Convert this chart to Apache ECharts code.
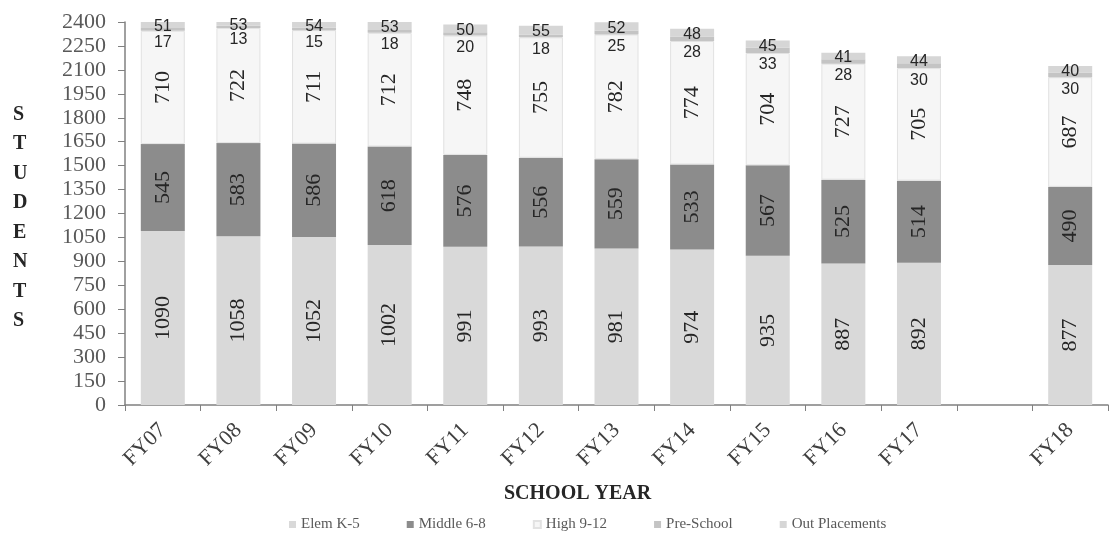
<!DOCTYPE html>
<html>
<head>
<meta charset="utf-8">
<script src="https://cdn.jsdelivr.net/npm/echarts@6/dist/echarts.min.js"></script>
<style>html,body{margin:0;padding:0;background:#fff}#c{width:1114px;height:542px}</style>
</head>
<body>
<div id="c"></div>
<script>
const categories = ['FY07','FY08','FY09','FY10','FY11','FY12','FY13','FY14','FY15','FY16','FY17','','FY18'];
const elem   = [1090,1058,1052,1002,991,993,981,974,935,887,892,'-',877];
const middle = [545,583,586,618,576,556,559,533,567,525,514,'-',490];
const high   = [710,722,711,712,748,755,782,774,704,727,705,'-',687];
const preSchool = [17,13,15,18,20,18,25,28,33,28,30,'-',30];
const outPlacements = [51,53,54,53,50,55,52,48,45,41,44,'-',40];
const yTicks = {min:0, max:2400, interval:150};

const serif = '"Liberation Serif", "DejaVu Serif", serif';
const sans = '"Liberation Sans", "DejaVu Sans", sans-serif';
const chart = echarts.init(document.getElementById('c'));
const barW = 44;
const axisCol = '#808080';
const rotLabel = {show:true, position:'inside', rotate:90, fontFamily:serif, fontSize:22, color:'#262626'};
chart.setOption({
  animation:false,
  grid:{left:125,right:6,top:22,bottom:137,containLabel:false},
  legend:{
    bottom:5, left:284, itemGap:47, itemWidth:7, itemHeight:7, icon:'rect',
    textStyle:{fontFamily:serif,fontSize:15,color:'#595959'},
    data:['Elem K-5','Middle 6-8','High 9-12','Pre-School','Out Placements']
  },
  xAxis:[{
    type:'category', data:categories, boundaryGap:true,
    axisLine:{lineStyle:{color:axisCol,width:1.5}},
    axisTick:{show:true,alignWithLabel:false,length:6,lineStyle:{color:axisCol}},
    axisLabel:{rotate:45,margin:22,fontFamily:serif,fontSize:22,color:'#404040',interval:0}
  }],
  yAxis:[{
    type:'value', min:yTicks.min, max:yTicks.max, interval:yTicks.interval,
    axisLine:{show:true,lineStyle:{color:axisCol,width:1.5}},
    axisTick:{show:true,length:7,lineStyle:{color:axisCol}},
    splitLine:{show:false},
    axisLabel:{margin:19,fontFamily:serif,fontSize:22,color:'#595959',formatter:v=>String(v)}
  }],
  graphic:[
    {type:'text', left:13, top:100, style:{text:'S\nT\nU\nD\nE\nN\nT\nS', fontFamily:serif, fontWeight:'bold', fontSize:20, lineHeight:29.5, fill:'#262626', align:'center'}},
    {type:'text', left:504, top:484, style:{text:'SCHOOL YEAR', fontFamily:serif, fontWeight:'bold', fontSize:20, fill:'#262626'}}
  ],
  series:[
    {name:'Elem K-5', type:'bar', stack:'s', barWidth:barW, data:elem,
     itemStyle:{color:'#d9d9d9'}, label:rotLabel},
    {name:'Middle 6-8', type:'bar', stack:'s', barWidth:barW, data:middle,
     itemStyle:{color:'#8c8c8c'}, label:rotLabel},
    {name:'High 9-12', type:'bar', stack:'s', barWidth:barW, data:high,
     itemStyle:{color:'#f6f6f6',borderColor:'#e2e2e2',borderWidth:1}, label:rotLabel},
    {name:'Pre-School', type:'bar', stack:'s', barWidth:barW, data:preSchool,
     itemStyle:{color:'#c4c4c4'},
     label:{show:true, position:'bottom', distance:4, fontFamily:sans, fontSize:16, color:'#262626'}},
    {name:'Out Placements', type:'bar', stack:'s', barWidth:barW, data:outPlacements,
     itemStyle:{color:'#d6d6d6'},
     label:{show:true, position:'inside', offset:[0,2], fontFamily:sans, fontSize:16, color:'#262626'}}
  ]
});
</script>
</body>
</html>
